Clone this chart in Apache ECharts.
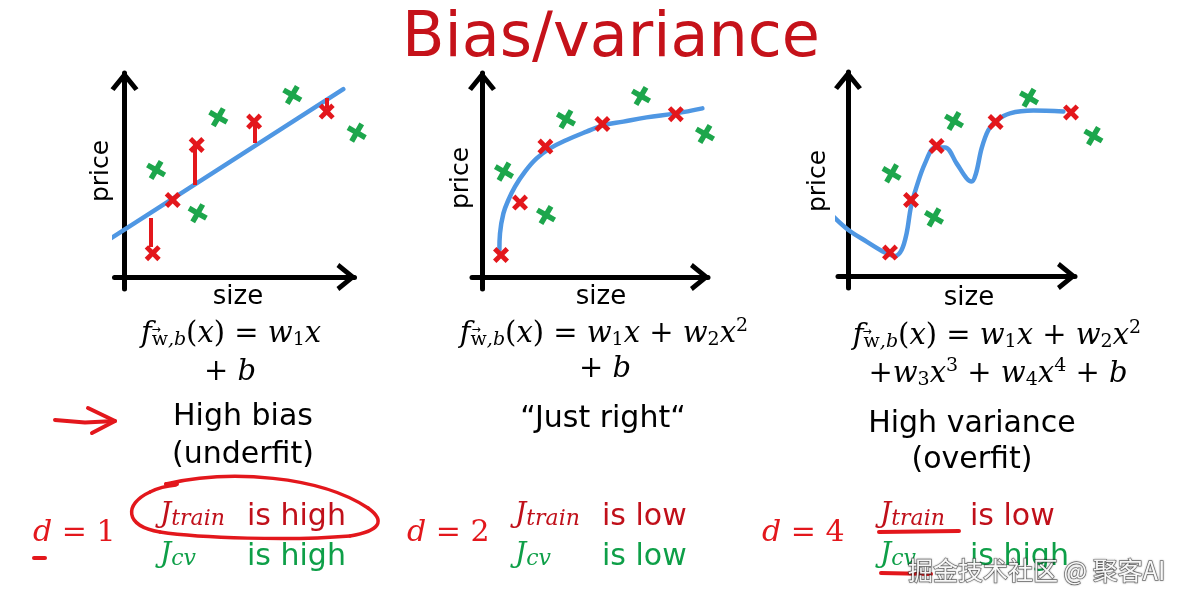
<!DOCTYPE html>
<html><head><meta charset="utf-8">
<script src="https://cdn.jsdelivr.net/npm/echarts@6/dist/echarts.min.js"></script>
<style>html,body{margin:0;padding:0;background:#fff}#c{width:1186px;height:604px}</style>
</head><body><div id="c"></div>
<script>
// ---- data (units: panel axes, origin at axis corner) ----
const underfitTrain = [[1.41,1.19],[2.41,3.85],[3.61,6.6],[6.48,7.77],[10.11,8.27]];
const underfitCv    = [[1.58,5.35],[4.69,7.99],[3.66,3.19],[8.39,9.1],[11.61,7.22]];
const underfitFit   = [[-0.93,1.77],[10.94,9.39]];
const underfitResidX    = [1.33, 3.53, 6.53, 10.11];
const underfitResidFrom = [2.95, 4.6, 6.7, 8.95];
const underfitResidTo   = [1.5, 6.7, 7.75, 8.45];

const rightTrain = [[0.95,1.1],[1.9,3.72],[3.17,6.52],[6.02,7.65],[9.69,8.14]];
const rightCv    = [[1.1,5.27],[4.2,7.89],[3.2,3.1],[7.95,9.05],[11.15,7.15]];
const rightFit   = [[0.87,1.35],[0.9,2.18],[1.07,3.18],[1.32,3.85],[1.65,4.52],[2.15,5.27],[2.73,5.93],[3.4,6.43],[4.23,6.85],[5.23,7.27],[6.02,7.57],[7.07,7.77],[8.23,7.98],[9.69,8.18],[11.02,8.43]];

const overTrain = [[2.1,1.17],[3.15,3.8],[4.43,6.5],[7.38,7.7],[11.15,8.18]];
const overCv    = [[2.18,5.13],[4.3,2.93],[5.3,7.75],[9.05,8.91],[12.27,7.0]];
const overFit   = [[-0.73,2.97],[0.02,2.3],[0.93,1.72],[1.85,1.17],[2.35,1.0],[2.68,1.3],[2.93,2.13],[3.15,3.47],[3.43,4.47],[3.85,5.63],[4.35,6.43],[4.85,6.43],[5.43,5.63],[5.93,4.88],[6.18,4.72],[6.4,5.13],[6.68,6.38],[7.02,7.3],[7.43,7.77],[8.1,8.13],[9.27,8.27],[10.77,8.22]];

const axisNames = ['price', 'size'];
const titleText = 'Bias/variance';
const fitLabels = [['High bias', '(underfit)'], ['\u201CJust right\u201C'], ['High variance', '(overfit)']];
const degrees = ['1', '2', '4'];
const trainVerdicts = ['is high', 'is low', 'is low'];
const cvVerdicts = ['is high', 'is low', 'is high'];
const watermark = '掘金技术社区 @ 聚客AI';

// ---- styling ----
const RED = '#E3171C', GREEN = '#1DA64C', BLUE = '#4F97E3';
const TXT_RED = '#C0101A', TXT_GREEN = '#0E9F48';
const SANS = 'DejaVu Sans', MATH = 'DejaVu Serif';
const CROSS = 'path://M0,3.4 L3.4,0 L8,4.6 L12.6,0 L16,3.4 L11.4,8 L16,12.6 L12.6,16 L8,11.4 L3.4,16 L0,12.6 L4.6,8 Z';
const CHEVRON = 'path://M13,0 L26,16 L22.3,18.6 L13,7.2 L3.7,18.6 L0,16 Z';

const origins = [[124.5,277],[482,277],[848,276]];
const xMax = [11.5, 11.3, 11.35];
const X_MIN = -0.5, Y_MIN = -0.6, Y_MAX = 10.2, UNIT = 20;

const grids = [], xAxes = [], yAxes = [];
origins.forEach((o, i) => {
  grids.push({left: o[0] + X_MIN * UNIT, top: o[1] - Y_MAX * UNIT,
    width: (xMax[i] - X_MIN) * UNIT, height: (Y_MAX - Y_MIN) * UNIT});
  const axisCommon = {
    type: 'value', gridIndex: i,
    axisLine: {show: true, onZero: true, lineStyle: {color: '#000', width: 5},
      symbol: ['none', CHEVRON], symbolSize: [28, 20], symbolOffset: [0, -8]},
    axisTick: {show: false}, axisLabel: {show: false}, splitLine: {show: false}
  };
  xAxes.push(Object.assign({}, axisCommon, {min: X_MIN, max: xMax[i]}));
  yAxes.push(Object.assign({}, axisCommon, {min: Y_MIN, max: Y_MAX}));
});

function scatter(i, data, color, rot, size) {
  return {type: 'scatter', xAxisIndex: i, yAxisIndex: i, data, symbol: CROSS,
    symbolSize: size, symbolRotate: rot, clip: false, z: 5,
    itemStyle: {color, opacity: 1}, silent: true};
}
function fit(i, data, smooth) {
  return {type: 'line', xAxisIndex: i, yAxisIndex: i, data, smooth, showSymbol: false,
    symbol: 'none', clip: false, z: 3, silent: true,
    lineStyle: {color: BLUE, width: 4.5, cap: 'round'}};
}

const residualSeries = {
  type: 'line', xAxisIndex: 0, yAxisIndex: 0, data: [], symbol: 'none', z: 4, silent: true,
  markLine: {silent: true, symbol: ['none', 'none'], label: {show: false},
    lineStyle: {color: RED, width: 4, type: 'solid'},
    animation: false,
    data: underfitResidX.map((x, k) => [{coord: [x, underfitResidFrom[k]]}, {coord: [x, underfitResidTo[k]]}])}
};

const series = [
  fit(0, underfitFit, false), residualSeries,
  scatter(0, underfitTrain, RED, 0, 16), scatter(0, underfitCv, GREEN, 15, 18),
  fit(1, rightFit, 0.4),
  scatter(1, rightTrain, RED, 0, 16), scatter(1, rightCv, GREEN, 15, 18),
  fit(2, overFit, 0.35),
  scatter(2, overTrain, RED, 0, 16), scatter(2, overCv, GREEN, 15, 18)
];

// ---- text ----
function txt(x, y, text, size, fill, align, extra) {
  return Object.assign({type: 'text', x, y, silent: true, z: 10,
    style: {text, fill, font: size + 'px "' + SANS + '"', align: align || 'center', verticalAlign: 'middle'}}, extra || {});
}
const mathRich = (fs, color) => ({
  i:   {fontFamily: MATH, fontStyle: 'italic', fontSize: fs, fill: color},
  o:   {fontFamily: MATH, fontSize: fs, fill: color},
  sbi: {fontFamily: MATH, fontStyle: 'italic', fontSize: Math.round(fs * 0.64), fill: color, padding: [Math.round(fs * 0.45), 0, 0, 0]},
  sbn: {fontFamily: MATH, fontSize: Math.round(fs * 0.64), fill: color, padding: [Math.round(fs * 0.45), 0, 0, 0]},
  spn: {fontFamily: MATH, fontSize: Math.round(fs * 0.64), fill: color, padding: [0, 0, Math.round(fs * 0.55), 0]},
  big: {fontFamily: MATH, fontStyle: 'italic', fontSize: fs, fill: color},
  sub: {fontFamily: MATH, fontStyle: 'italic', fontSize: Math.round(fs * 0.8), fill: color, padding: [Math.round(fs * 0.3), 0, 0, 0]}
});
function math(x, y, text, fs, color, align) {
  return {type: 'text', x, y, silent: true, z: 10,
    style: {text, rich: mathRich(fs, color), align: align || 'center', verticalAlign: 'middle'}};
}

const lhs = '{i|f}{sbn|w}{sbi|,b}{o|(}{i|x}{o|) = }{i|w}{sbn|1}{i|x}';
const graphics = [
  txt(611, 40, titleText, 62, '#C5121A'),
  // axis names
  txt(101, 171, axisNames[0], 25, '#000', 'center', {rotation: Math.PI / 2}),
  txt(461, 178, axisNames[0], 25, '#000', 'center', {rotation: Math.PI / 2}),
  txt(818, 181, axisNames[0], 25, '#000', 'center', {rotation: Math.PI / 2}),
  txt(238, 297, axisNames[1], 26, '#000'),
  txt(601, 297, axisNames[1], 26, '#000'),
  txt(969, 298, axisNames[1], 26, '#000'),
  // formulas
  math(231, 334, lhs, 29, '#000'),
  math(230, 372, '{o|+ }{i|b}', 29, '#000'),
  math(604, 334, lhs + '{o| + }{i|w}{sbn|2}{i|x}{spn|2}', 29, '#000'),
  math(605, 369, '{o|+ }{i|b}', 29, '#000'),
  math(997, 336, lhs + '{o| + }{i|w}{sbn|2}{i|x}{spn|2}', 29, '#000'),
  math(998, 374, '{o|+}{i|w}{sbn|3}{i|x}{spn|3}{o| + }{i|w}{sbn|4}{i|x}{spn|4}{o| + }{i|b}', 29, '#000'),
  // fit labels
  txt(243, 417, fitLabels[0][0], 30, '#000'),
  txt(243, 455, fitLabels[0][1], 30, '#000'),
  txt(603, 419, fitLabels[1][0], 30, '#000'),
  txt(972, 424, fitLabels[2][0], 30, '#000'),
  txt(972, 460, fitLabels[2][1], 30, '#000')
];
const rowX = [[33, 160, 247], [407, 515, 602], [762, 880, 970]];
rowX.forEach((rx, k) => {
  graphics.push(math(rx[0], 533, '{i|d}{o| = ' + degrees[k] + '}', 30, RED, 'left'));
  graphics.push(math(rx[1], 515, '{big|J}{sub|train}', 28, TXT_RED, 'left'));
  graphics.push(math(rx[1], 555, '{big|J}{sub|cv}', 28, TXT_GREEN, 'left'));
  graphics.push(txt(rx[2], 517, trainVerdicts[k], 30, TXT_RED, 'left'));
  graphics.push(txt(rx[2], 557, cvVerdicts[k], 30, TXT_GREEN, 'left'));
});
// hand-drawn annotations
const ink = {stroke: RED, lineWidth: 4, fill: null, lineCap: 'round', lineJoin: 'round'};
const ink2 = Object.assign({}, ink, {lineWidth: 3.5});
function bz(p) {
  return {type: 'bezierCurve', silent: true, z: 11, style: ink2,
    shape: {x1: p[0], y1: p[1], cpx1: p[2], cpy1: p[3], cpx2: p[4], cpy2: p[5], x2: p[6], y2: p[7]}};
}
graphics.push(
  {type: 'polyline', silent: true, z: 11, shape: {points: [[55,420],[85,422.5],[115,421]]}, style: ink},
  {type: 'polyline', silent: true, z: 11, shape: {points: [[88,408],[115,421],[92,433]]}, style: ink},
  {type: 'line', silent: true, z: 11, shape: {x1: 166, y1: 484, x2: 177, y2: 484}, style: ink},
  bz([166,484, 230,469, 320,476, 368,508]),
  bz([368,508, 386,521, 380,531, 350,536]),
  bz([350,536, 290,541, 200,538, 160,532]),
  bz([160,532, 124,526, 124,504, 150,492]),
  bz([150,492, 158,488, 165,486, 176,485]),
  {type: 'line', silent: true, z: 11, shape: {x1: 34, y1: 558, x2: 45, y2: 558}, style: ink},
  {type: 'line', silent: true, z: 11, shape: {x1: 879, y1: 532, x2: 959, y2: 531}, style: ink},
  {type: 'line', silent: true, z: 11, shape: {x1: 881, y1: 573, x2: 931, y2: 574}, style: ink},
  // small vector arrows above the subscript w
  txt(156, 330, '\u2192', 11, '#000'),
  txt(476, 330, '\u2192', 11, '#000'),
  txt(867, 332, '\u2192', 11, '#000'),
  {type: 'text', x: 908, y: 570, silent: true, z: 12,
    style: {text: watermark, fill: 'rgba(255,255,255,0.95)', font: '25px "Noto Sans CJK SC"', align: 'left', verticalAlign: 'middle',
      stroke: 'rgba(50,50,50,0.6)', lineWidth: 1.4, textShadowColor: 'rgba(0,0,0,0.4)', textShadowBlur: 2}}
);

const chart = echarts.init(document.getElementById('c'), null, {renderer: 'canvas'});
chart.setOption({
  animation: false, backgroundColor: '#fff',
  grid: grids, xAxis: xAxes, yAxis: yAxes, series, graphic: graphics
});
</script></body></html>
